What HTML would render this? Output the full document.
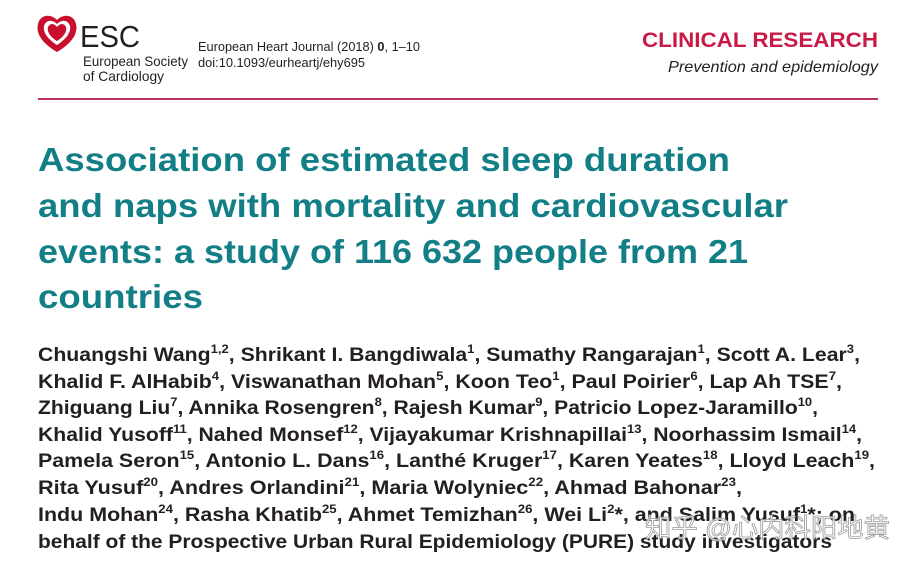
<!DOCTYPE html>
<html><head><meta charset="utf-8"><style>
html,body{margin:0;padding:0;background:#fff;width:913px;height:566px;overflow:hidden}
svg{display:block}
.t{font-family:"Liberation Sans",sans-serif;font-weight:bold;fill:#127f87;font-size:33px}
.a{font-family:"Liberation Sans",sans-serif;font-weight:bold;fill:#231f20;font-size:19.5px}
.s{font-size:12px}
</style></head><body>
<svg width="913" height="566" viewBox="0 0 913 566">
<g>
<path d="M57 52 C40 42 36 32 38 24 C40 15 50 13 57 20 C64 13 74 15 76 24 C78 32 74 42 57 52Z" fill="#c8102e"/>
<path d="M57 45 C46 38 43 31 44 26 C46 20 52 19 57 24 C62 19 68 20 70 26 C71 31 68 38 57 45Z" fill="#fff"/>
<path d="M57 41 C49 36 47 31 48 27 C50 23 54 23 57 27 C60 23 64 23 66 27 C67 31 65 36 57 41Z" fill="#c8102e"/>
<text x="80" y="47" font-family="Liberation Sans,sans-serif" font-size="31" fill="#231f20" textLength="60" lengthAdjust="spacingAndGlyphs">ESC</text>
<text x="83" y="66" font-family="Liberation Sans,sans-serif" font-size="14" fill="#231f20" textLength="105" lengthAdjust="spacingAndGlyphs">European Society</text>
<text x="83" y="81" font-family="Liberation Sans,sans-serif" font-size="14" fill="#231f20" textLength="81" lengthAdjust="spacingAndGlyphs">of Cardiology</text>
</g>
<text x="198" y="51" font-family="Liberation Sans,sans-serif" font-size="12.5" fill="#231f20" textLength="222" lengthAdjust="spacingAndGlyphs">European Heart Journal (2018) <tspan font-weight="bold">0</tspan>, 1–10</text>
<text x="198" y="67" font-family="Liberation Sans,sans-serif" font-size="12.5" fill="#231f20" textLength="167" lengthAdjust="spacingAndGlyphs">doi:10.1093/eurheartj/ehy695</text>
<text x="642" y="47" font-family="Liberation Sans,sans-serif" font-weight="bold" font-size="21" fill="#c81a45" textLength="236" lengthAdjust="spacingAndGlyphs">CLINICAL RESEARCH</text>
<text x="668" y="72" font-family="Liberation Sans,sans-serif" font-style="italic" font-size="16" fill="#231f20" textLength="210" lengthAdjust="spacingAndGlyphs">Prevention and epidemiology</text>
<rect x="38" y="98" width="840" height="2" fill="#b8345a"/>
<g>
<text class="t" x="38" y="171" textLength="692" lengthAdjust="spacingAndGlyphs">Association of estimated sleep duration</text>
<text class="t" x="38" y="217" textLength="750" lengthAdjust="spacingAndGlyphs">and naps with mortality and cardiovascular</text>
<text class="t" x="38" y="263" textLength="710" lengthAdjust="spacingAndGlyphs">events: a study of 116 632 people from 21</text>
<text class="t" x="38" y="308" textLength="165" lengthAdjust="spacingAndGlyphs">countries</text>
</g>
<g>
<text class="a" x="38" y="361" textLength="822" lengthAdjust="spacingAndGlyphs">Chuangshi Wang<tspan class="s" dy="-8">1,2</tspan><tspan dy="8">, Shrikant I. Bangdiwala</tspan><tspan class="s" dy="-8">1</tspan><tspan dy="8">, Sumathy Rangarajan</tspan><tspan class="s" dy="-8">1</tspan><tspan dy="8">, Scott A. Lear</tspan><tspan class="s" dy="-8">3</tspan><tspan dy="8">,</tspan></text>
<text class="a" x="38" y="388" textLength="804" lengthAdjust="spacingAndGlyphs">Khalid F. AlHabib<tspan class="s" dy="-8">4</tspan><tspan dy="8">, Viswanathan Mohan</tspan><tspan class="s" dy="-8">5</tspan><tspan dy="8">, Koon Teo</tspan><tspan class="s" dy="-8">1</tspan><tspan dy="8">, Paul Poirier</tspan><tspan class="s" dy="-8">6</tspan><tspan dy="8">, Lap Ah TSE</tspan><tspan class="s" dy="-8">7</tspan><tspan dy="8">,</tspan></text>
<text class="a" x="38" y="414" textLength="780" lengthAdjust="spacingAndGlyphs">Zhiguang Liu<tspan class="s" dy="-8">7</tspan><tspan dy="8">, Annika Rosengren</tspan><tspan class="s" dy="-8">8</tspan><tspan dy="8">, Rajesh Kumar</tspan><tspan class="s" dy="-8">9</tspan><tspan dy="8">, Patricio Lopez-Jaramillo</tspan><tspan class="s" dy="-8">10</tspan><tspan dy="8">,</tspan></text>
<text class="a" x="38" y="441" textLength="824" lengthAdjust="spacingAndGlyphs">Khalid Yusoff<tspan class="s" dy="-8">11</tspan><tspan dy="8">, Nahed Monsef</tspan><tspan class="s" dy="-8">12</tspan><tspan dy="8">, Vijayakumar Krishnapillai</tspan><tspan class="s" dy="-8">13</tspan><tspan dy="8">, Noorhassim Ismail</tspan><tspan class="s" dy="-8">14</tspan><tspan dy="8">,</tspan></text>
<text class="a" x="38" y="467" textLength="837" lengthAdjust="spacingAndGlyphs">Pamela Seron<tspan class="s" dy="-8">15</tspan><tspan dy="8">, Antonio L. Dans</tspan><tspan class="s" dy="-8">16</tspan><tspan dy="8">, Lanthé Kruger</tspan><tspan class="s" dy="-8">17</tspan><tspan dy="8">, Karen Yeates</tspan><tspan class="s" dy="-8">18</tspan><tspan dy="8">, Lloyd Leach</tspan><tspan class="s" dy="-8">19</tspan><tspan dy="8">,</tspan></text>
<text class="a" x="38" y="494" textLength="704" lengthAdjust="spacingAndGlyphs">Rita Yusuf<tspan class="s" dy="-8">20</tspan><tspan dy="8">, Andres Orlandini</tspan><tspan class="s" dy="-8">21</tspan><tspan dy="8">, Maria Wolyniec</tspan><tspan class="s" dy="-8">22</tspan><tspan dy="8">, Ahmad Bahonar</tspan><tspan class="s" dy="-8">23</tspan><tspan dy="8">,</tspan></text>
<text class="a" x="38" y="521" textLength="817" lengthAdjust="spacingAndGlyphs">Indu Mohan<tspan class="s" dy="-8">24</tspan><tspan dy="8">, Rasha Khatib</tspan><tspan class="s" dy="-8">25</tspan><tspan dy="8">, Ahmet Temizhan</tspan><tspan class="s" dy="-8">26</tspan><tspan dy="8">, Wei Li</tspan><tspan class="s" dy="-8">2</tspan><tspan dy="8">*, and Salim Yusuf</tspan><tspan class="s" dy="-8">1</tspan><tspan dy="8">*; on</tspan></text>
<text class="a" x="38" y="548" textLength="794" lengthAdjust="spacingAndGlyphs">behalf of the Prospective Urban Rural Epidemiology (PURE) study investigators</text>
</g>
<text x="645" y="537" font-family="Liberation Sans,'Noto Sans CJK SC',sans-serif" font-size="26" fill="#ffffff" fill-opacity="0.75" stroke="#9a9a9a" stroke-width="0.8" textLength="245" lengthAdjust="spacingAndGlyphs">知乎 @心内科阳地黄</text>
</svg>
</body></html>
